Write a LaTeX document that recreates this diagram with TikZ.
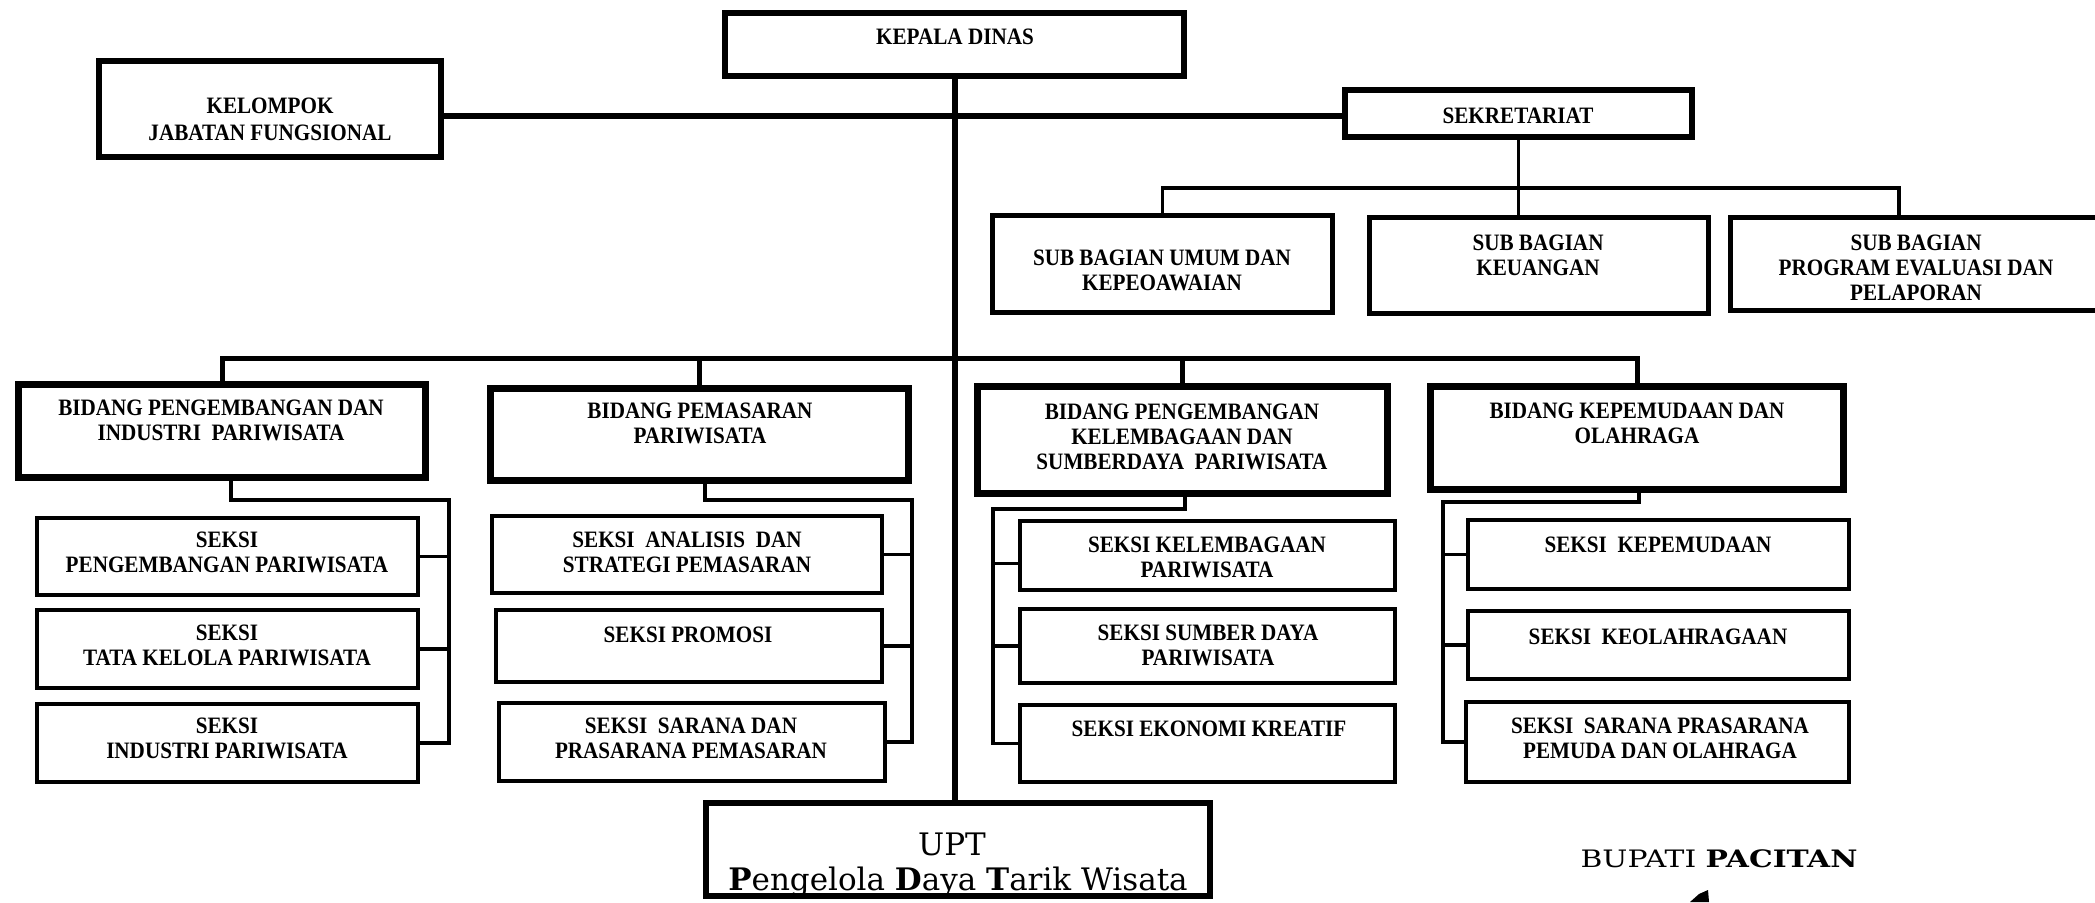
\documentclass[tikz,border=0pt]{standalone}
\usepackage{fontspec}
\setmainfont[FakeStretch=0.9]{Liberation Serif}
\newfontfamily\uptfont{DejaVu Serif}
\newfontfamily\bupfont[FakeStretch=1.24]{DejaVu Serif}
\newcommand\mkbox[6]{\node[#1, minimum width={(#4)-(#2)}, minimum height={(#5)-(#3)}] (#6) at ({((#2)+(#4))/2},{((#3)+(#5))/2}) {};}
\tikzset{
  bigbox/.style={draw, rectangle, inner sep=0pt, outer sep=0pt, line width=6.5pt},
  midbox/.style={draw, rectangle, inner sep=0pt, outer sep=0pt, line width=5pt},
  smallbox/.style={draw, rectangle, inner sep=0pt, outer sep=0pt, line width=4.5pt},
  txt/.style={anchor=north, inner sep=0pt, align=center, font=\bfseries\fontsize{23.5}{25}\selectfont},
  mainline/.style={line width=6pt},
  busline/.style={line width=5pt},
  conn/.style={line width=3.5pt},
}
\begin{document}
\begin{tikzpicture}[x=1pt,y=-1pt]
\useasboundingbox (0,0) rectangle (2095,902);
% boxes
\mkbox{bigbox}{725}{13}{1184}{76}{kd}
\mkbox{bigbox}{99}{61}{441}{157}{kjf}
\mkbox{bigbox}{1345}{90}{1692}{137}{sek}
\mkbox{midbox}{992.5}{215.5}{1332.5}{312.5}{sb1}
\mkbox{midbox}{1369.5}{217.5}{1708.5}{313.5}{sb2}
\mkbox{midbox}{1730.5}{217.5}{2120}{310.5}{sb3}
\mkbox{bigbox}{18.5}{384.5}{425.5}{477.5}{b1}
\mkbox{bigbox}{490.5}{388.5}{908.5}{480.5}{b2}
\mkbox{bigbox}{977.5}{386.5}{1387.5}{493.5}{b3}
\mkbox{bigbox}{1430.5}{386.5}{1843.5}{489.5}{b4}
\mkbox{smallbox}{37}{518}{418}{595}{s1a}
\mkbox{smallbox}{37}{610}{418}{688}{s1b}
\mkbox{smallbox}{37}{704}{418}{782}{s1c}
\mkbox{smallbox}{492}{516}{882}{593}{s2a}
\mkbox{smallbox}{496}{610}{882}{682}{s2b}
\mkbox{smallbox}{499}{703}{885}{781}{s2c}
\mkbox{smallbox}{1020}{521}{1395}{590}{s3a}
\mkbox{smallbox}{1020}{609}{1395}{683}{s3b}
\mkbox{smallbox}{1020}{705}{1395}{782}{s3c}
\mkbox{smallbox}{1468}{520}{1849}{589}{s4a}
\mkbox{smallbox}{1468}{611}{1849}{679}{s4b}
\mkbox{smallbox}{1466}{702}{1849}{782}{s4c}
\mkbox{bigbox}{706}{803}{1210}{896}{upt}
% texts
\node[txt] (kdt) at (955,29) {KEPALA DINAS};
\node[txt, font=\bfseries\fontsize{23.5}{27}\selectfont] (kjft) at (270,98) {KELOMPOK\\JABATAN FUNGSIONAL};
\node[txt] (sekt) at (1518,108) {SEKRETARIAT};
\node[txt] (sb1t) at (1162,250) {SUB BAGIAN UMUM DAN\\KEPEOAWAIAN};
\node[txt] (sb2t) at (1538,235) {SUB BAGIAN\\KEUANGAN};
\node[txt] (sb3t) at (1916,235) {SUB BAGIAN\\PROGRAM EVALUASI DAN\\PELAPORAN};
\node[txt] (b1t) at (221,400) {BIDANG PENGEMBANGAN DAN\\INDUSTRI\ \ PARIWISATA};
\node[txt] (b2t) at (700,403) {BIDANG PEMASARAN\\PARIWISATA};
\node[txt] (b3t) at (1182,404) {BIDANG PENGEMBANGAN\\KELEMBAGAAN DAN\\SUMBERDAYA\ \ PARIWISATA};
\node[txt] (b4t) at (1637,403) {BIDANG KEPEMUDAAN DAN\\OLAHRAGA};
\node[txt] (s1at) at (227,532) {SEKSI\\PENGEMBANGAN PARIWISATA};
\node[txt] (s1bt) at (227,625) {SEKSI\\TATA KELOLA PARIWISATA};
\node[txt] (s1ct) at (227,718) {SEKSI\\INDUSTRI PARIWISATA};
\node[txt] (s2at) at (687,532) {SEKSI\ \ ANALISIS\ \ DAN\\STRATEGI PEMASARAN};
\node[txt] (s2bt) at (688,627) {SEKSI PROMOSI};
\node[txt] (s2ct) at (691,718) {SEKSI\ \ SARANA DAN\\PRASARANA PEMASARAN};
\node[txt] (s3at) at (1207,537) {SEKSI KELEMBAGAAN\\PARIWISATA};
\node[txt] (s3bt) at (1208,625) {SEKSI SUMBER DAYA\\PARIWISATA};
\node[txt] (s3ct) at (1209,721) {SEKSI EKONOMI KREATIF};
\node[txt] (s4at) at (1658,537) {SEKSI\ \ KEPEMUDAAN};
\node[txt] (s4bt) at (1658,629) {SEKSI\ \ KEOLAHRAGAAN};
\node[txt] (s4ct) at (1660,718) {SEKSI\ \ SARANA PRASARANA\\PEMUDA DAN OLAHRAGA};
\node[anchor=base, inner sep=0pt, font=\uptfont\fontsize{31}{36}\selectfont] (uptA) at (952,855) {UPT};
\node[anchor=base, inner sep=0pt, font=\uptfont\fontsize{31}{36}\selectfont] (uptB) at (958,890) {\textbf{P}engelola \textbf{D}aya \textbf{T}arik Wisata};
\node[anchor=base, inner sep=0pt, font=\bupfont\fontsize{24}{28}\selectfont] (bup) at (1719,867) {BUPATI \textbf{PACITAN}};
% connectors
\coordinate (kjfy) at (0,116);
\coordinate (sekbus) at (0,188);
\coordinate (sbR) at (1899,188);
\coordinate (mbus) at (0,358);
\draw[mainline] (kd.south) -- (kd.south |- upt.north);
\draw[mainline] (kjf.east |- kjfy) -- (sek.west |- kjfy);
\draw[conn] (sek.south) -- (sek.south |- sb2.north);
\draw[conn] (sb1.north) -- (sb1.north |- sekbus) -- (sbR) -- (sbR |- sb3.north);
\draw[busline] (b1.north) -- (b1.north |- mbus) -- (b4.north |- mbus) -- (b4.north);
\draw[busline] (b2.north) -- (b2.north |- mbus);
\draw[busline] (b3.north) -- (b3.north |- mbus);
% bidang 1
\coordinate (b1k) at (231,500);
\coordinate (b1r) at (449,500);
\draw[conn] (b1.south -| b1k) -- (b1k) -- (b1r) -- (b1r |- s1c.east) -- (s1c.east);
\draw[conn] (s1a.east) -- (s1a.east -| b1r);
\draw[conn] (s1b.east) -- (s1b.east -| b1r);
% bidang 2
\coordinate (b2k) at (705,500);
\coordinate (b2r) at (912,500);
\draw[conn] (b2.south -| b2k) -- (b2k) -- (b2r) -- (b2r |- s2c.east) -- (s2c.east);
\draw[conn] (s2a.east) -- (s2a.east -| b2r);
\draw[conn] (s2b.east) -- (s2b.east -| b2r);
% bidang 3
\coordinate (b3k) at (1185,509);
\coordinate (b3l) at (993,509);
\draw[conn] (b3.south -| b3k) -- (b3k) -- (b3l) -- (b3l |- s3c.west) -- (s3c.west);
\draw[conn] ([yshift=-8pt]s3a.west) -- ([yshift=-8pt]s3a.west -| b3l);
\draw[conn] (s3b.west) -- (s3b.west -| b3l);
% bidang 4
\coordinate (b4k) at (1639,502);
\coordinate (b4l) at (1443,502);
\draw[conn] (b4.south -| b4k) -- (b4k) -- (b4l) -- (b4l |- s4c.west) -- (s4c.west);
\draw[conn] (s4a.west) -- (s4a.west -| b4l);
\draw[conn] (s4b.west) -- (s4b.west -| b4l);
% small mark below the signature line
\fill (1690,902) -- (1699,894) -- (1708,890) -- (1709,902) -- cycle;
\end{tikzpicture}
\end{document}
